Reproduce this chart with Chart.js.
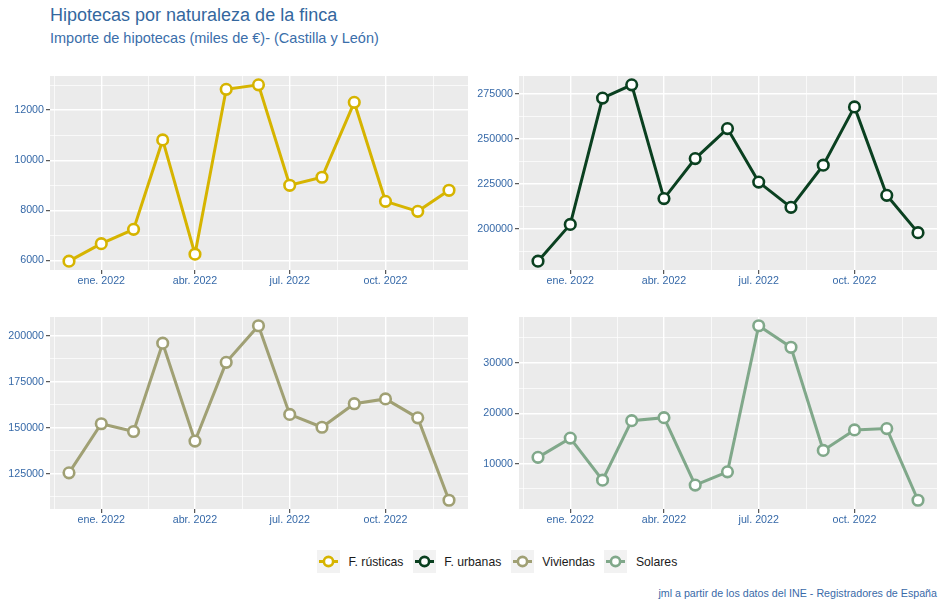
<!DOCTYPE html>
<html><head><meta charset="utf-8">
<script src="https://cdn.jsdelivr.net/npm/chart.js@4.4.1/dist/chart.umd.min.js"></script>
<style>
body{margin:0;background:#fff;width:944px;height:607px;position:relative;overflow:hidden;font-family:"Liberation Sans",Arial,sans-serif;}
canvas{position:absolute;}
#title{position:absolute;left:50px;top:6px;font-size:18px;line-height:18px;color:#34679e;white-space:nowrap;}
#subtitle{position:absolute;left:50px;top:31px;font-size:14.5px;line-height:15px;color:#3a6eaa;white-space:nowrap;}
#legend{position:absolute;left:317px;top:550px;height:23px;display:flex;align-items:center;font-size:12.2px;color:#1a1a1a;white-space:nowrap;}
#legend .item{display:flex;align-items:center;margin-right:9.5px;}
#legend svg{margin-right:8.5px;display:block;}
#caption{position:absolute;right:7px;top:588px;font-size:10.7px;line-height:11px;color:#3a6aa8;white-space:nowrap;}
</style></head><body>
<div id="title">Hipotecas por naturaleza de la finca</div>
<div id="subtitle">Importe de hipotecas (miles de €)- (Castilla y León)</div>
<div id="legend"></div>
<div id="caption">jml a partir de los datos del INE - Registradores de España</div>
<script>
// ---- data ----
const months = ['2021-12-01','2022-01-01','2022-02-01','2022-03-01','2022-04-01','2022-05-01','2022-06-01','2022-07-01','2022-08-01','2022-09-01','2022-10-01','2022-11-01','2022-12-01'];
const seriesNames = ['F. rústicas','F. urbanas','Viviendas','Solares'];
const seriesColors = ['#d6b400','#0a4020','#a0a074','#80a88a'];
const rusticas  = [5970, 6670, 7240, 10810, 6250, 12830, 13010, 9000, 9320, 12310, 8360, 7960, 8800];
const urbanas   = [181900, 202400, 272800, 280200, 216800, 239100, 255800, 226000, 211900, 235400, 267900, 218600, 197800];
const viviendas = [125400, 152100, 147900, 195900, 142700, 185500, 205400, 157200, 150200, 163000, 165600, 155300, 110500];
const solares   = [11240, 15070, 6700, 18550, 19140, 5720, 8360, 37440, 33150, 12630, 16710, 16970, 2700];
const xTickDates  = ['2022-01-01','2022-04-01','2022-07-01','2022-10-01'];
const xTickLabels = ['ene. 2022','abr. 2022','jul. 2022','oct. 2022'];
const yTicksRusticas  = [6000, 8000, 10000, 12000];
const yTicksUrbanas   = [200000, 225000, 250000, 275000];
const yTicksViviendas = [125000, 150000, 175000, 200000];
const yTicksSolares   = [10000, 20000, 30000];

// ---- helpers ----
const FONT = '"Liberation Sans", Arial, sans-serif';
const TICK_COLOR = '#3669a8';
const day = s => Date.UTC(+s.slice(0,4), +s.slice(5,7)-1, +s.slice(8,10)) / 86400000;
const xs = months.map(day);
const xMajor = xTickDates.map(day);
const xRange = xs[xs.length-1] - xs[0];
const xMin = xs[0] - 0.05 * xRange, xMax = xs[xs.length-1] + 0.05 * xRange;

function withMinor(major, lo, hi) {
  const all = [];
  const n = major.length;
  const firstStep = major[1] - major[0], lastStep = major[n-1] - major[n-2];
  all.push(major[0] - firstStep / 2);
  for (let i = 0; i < n; i++) {
    all.push(major[i]);
    if (i < n-1) all.push((major[i] + major[i+1]) / 2);
  }
  all.push(major[n-1] + lastStep / 2);
  return all.filter(v => v >= lo && v <= hi);
}
const xAll = withMinor(xMajor, xMin, xMax);

const bgPlugin = {
  id: 'panelBg',
  beforeDraw(chart) {
    const {ctx, chartArea: a} = chart;
    ctx.save();
    ctx.fillStyle = '#ebebeb';
    ctx.fillRect(a.left, a.top, a.right - a.left, a.bottom - a.top);
    ctx.restore();
  }
};

function makePanel(values, yMajor, color, box) {
  const c = document.createElement('canvas');
  c.width = box.w; c.height = box.h;
  c.style.left = box.l + 'px'; c.style.top = box.t + 'px';
  c.style.width = box.w + 'px'; c.style.height = box.h + 'px';
  document.body.appendChild(c);
  const vmin = Math.min(...values), vmax = Math.max(...values);
  const yMin = vmin - 0.05 * (vmax - vmin), yMax = vmax + 0.05 * (vmax - vmin);
  const yAll = withMinor(yMajor, yMin, yMax);
  const yMajSet = new Set(yMajor), xMajSet = new Set(xMajor);
  new Chart(c, {
    type: 'line',
    data: { datasets: [{
      data: xs.map((x, i) => ({x, y: values[i]})),
      borderColor: color, borderWidth: 3,
      pointRadius: 5.3, pointBorderWidth: 2.6,
      pointBackgroundColor: '#ffffff', pointBorderColor: color,
      tension: 0, clip: false
    }]},
    options: {
      responsive: false, animation: false, devicePixelRatio: 1, events: [],
      layout: { autoPadding: false, padding: { top: box.pt, right: box.pr, left: 0, bottom: 0 } },
      plugins: { legend: { display: false }, tooltip: { enabled: false } },
      scales: {
        x: {
          type: 'linear', min: xMin, max: xMax,
          afterBuildTicks: s => { s.ticks = xAll.map(v => ({value: v})); },
          afterFit: s => { s.height = box.xh; },
          ticks: {
            autoSkip: false, maxRotation: 0, minRotation: 0, padding: 1,
            color: TICK_COLOR, font: { family: FONT, size: 10.7 },
            callback: v => { const i = xMajor.indexOf(v); return i >= 0 ? xTickLabels[i] : ''; }
          },
          grid: {
            color: '#ffffff',
            lineWidth: ctx => (ctx.tick && xMajSet.has(ctx.tick.value)) ? 1.4 : 0.7,
            tickLength: 4, tickWidth: 1,
            tickColor: ctx => (ctx.tick && xMajSet.has(ctx.tick.value)) ? '#333333' : 'rgba(0,0,0,0)'
          },
          border: { display: false }
        },
        y: {
          type: 'linear', min: yMin, max: yMax,
          afterBuildTicks: s => { s.ticks = yAll.map(v => ({value: v})); },
          afterFit: s => { s.width = box.yw; },
          ticks: {
            autoSkip: false, padding: 2,
            color: TICK_COLOR, font: { family: FONT, size: 10.7 },
            callback: v => yMajSet.has(v) ? String(v) : ''
          },
          grid: {
            color: '#ffffff',
            lineWidth: ctx => (ctx.tick && yMajSet.has(ctx.tick.value)) ? 1.4 : 0.7,
            tickLength: 4, tickWidth: 1,
            tickColor: ctx => (ctx.tick && yMajSet.has(ctx.tick.value)) ? '#333333' : 'rgba(0,0,0,0)'
          },
          border: { display: false }
        }
      }
    },
    plugins: [bgPlugin]
  });
}

makePanel(rusticas,  yTicksRusticas,  seriesColors[0], {l:0,   t:56,  w:470, h:234, pt:20, pr:2, yw:50, xh:20});
makePanel(urbanas,   yTicksUrbanas,   seriesColors[1], {l:470, t:56,  w:474, h:234, pt:20, pr:7, yw:49, xh:20});
makePanel(viviendas, yTicksViviendas, seriesColors[2], {l:0,   t:297, w:470, h:233, pt:20, pr:2, yw:50, xh:21});
makePanel(solares,   yTicksSolares,   seriesColors[3], {l:470, t:297, w:474, h:233, pt:20, pr:7, yw:49, xh:21});

// ---- legend ----
const lg = document.getElementById('legend');
seriesNames.forEach((name, i) => {
  const col = seriesColors[i];
  const it = document.createElement('div');
  it.className = 'item';
  it.innerHTML = '<svg width="23" height="23"><rect width="23" height="23" fill="#f2f2f2"/>' +
    '<line x1="2" y1="11.5" x2="21" y2="11.5" stroke="' + col + '" stroke-width="3"/>' +
    '<circle cx="11.5" cy="11.5" r="4.6" fill="#fff" stroke="' + col + '" stroke-width="2.6"/></svg>';
  const sp = document.createElement('span');
  sp.textContent = name;
  it.appendChild(sp);
  lg.appendChild(it);
});
</script>
</body></html>
